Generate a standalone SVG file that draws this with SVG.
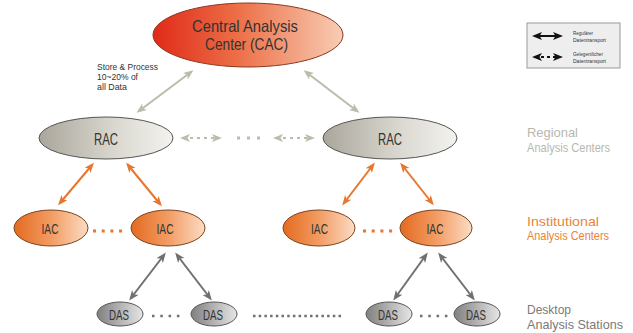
<svg xmlns="http://www.w3.org/2000/svg" width="633" height="333" viewBox="0 0 633 333">
<style>
text{font-family:"Liberation Sans",Arial,sans-serif;}
.node{fill:#333;text-anchor:middle;}
.side{font-size:13px;}
.lg{font-size:5.5px;fill:#333;}
.c1{fill:none;stroke:#b9bda9;stroke-width:2;}
.c2{fill:none;stroke:#e8762c;stroke-width:2;}
.c3{fill:none;stroke:#707070;stroke-width:2;}
.dash{stroke-dasharray:3 4;}
</style>
<defs>
<linearGradient id="gCAC" x1="0" y1="0" x2="1" y2="0">
<stop offset="0" stop-color="#e02a18"/><stop offset="0.45" stop-color="#ec7048"/><stop offset="1" stop-color="#f8cdb4"/>
</linearGradient>
<linearGradient id="gRAC" x1="0" y1="0" x2="1" y2="0">
<stop offset="0" stop-color="#aaa69c"/><stop offset="0.6" stop-color="#dcdad2"/><stop offset="1" stop-color="#f3f2ee"/>
</linearGradient>
<linearGradient id="gIAC" x1="0" y1="0" x2="1" y2="0">
<stop offset="0" stop-color="#e46a20"/><stop offset="0.5" stop-color="#f29c62"/><stop offset="1" stop-color="#fcdcc4"/>
</linearGradient>
<linearGradient id="gDAS" x1="0" y1="0" x2="1" y2="0">
<stop offset="0" stop-color="#808080"/><stop offset="0.6" stop-color="#bdbdbd"/><stop offset="1" stop-color="#e6e6e6"/>
</linearGradient>
<marker id="m1" markerUnits="userSpaceOnUse" markerWidth="12" markerHeight="10" refX="7" refY="4" orient="auto-start-reverse"><path d="M0,0 L10,4 L0,8 L2.5,4 z" fill="#b9bda9"/></marker>
<marker id="m2" markerUnits="userSpaceOnUse" markerWidth="12" markerHeight="10" refX="7" refY="4" orient="auto-start-reverse"><path d="M0,0 L10,4 L0,8 L2.5,4 z" fill="#e8762c"/></marker>
<marker id="m3" markerUnits="userSpaceOnUse" markerWidth="12" markerHeight="10" refX="7" refY="4" orient="auto-start-reverse"><path d="M0,0 L10,4 L0,8 L2.5,4 z" fill="#707070"/></marker>
<marker id="mk" markerUnits="userSpaceOnUse" markerWidth="12" markerHeight="10" refX="7" refY="4" orient="auto-start-reverse"><path d="M0,0 L10,4 L0,8 L2.5,4 z" fill="#111"/></marker>
</defs>
<rect width="633" height="333" fill="#fff"/>

<g id="connectors">
<line class="c1" x1="191" y1="72" x2="139" y2="111" marker-start="url(#m1)" marker-end="url(#m1)"/>
<line class="c1" x1="306" y1="72" x2="357" y2="111" marker-start="url(#m1)" marker-end="url(#m1)"/>
<line class="c1 dash" x1="183" y1="138" x2="219" y2="138" marker-start="url(#m1)" marker-end="url(#m1)"/>
<line class="c1" x1="237" y1="138" x2="260" y2="138" style="stroke-width:3;stroke-dasharray:3 7"/>
<line class="c1 dash" x1="276" y1="138" x2="312" y2="138" marker-start="url(#m1)" marker-end="url(#m1)"/>
<line class="c2" x1="92" y1="165" x2="60" y2="203" marker-start="url(#m2)" marker-end="url(#m2)"/>
<line class="c2" x1="128" y1="165" x2="160" y2="204" marker-start="url(#m2)" marker-end="url(#m2)"/>
<line class="c2" x1="373" y1="165" x2="344" y2="203" marker-start="url(#m2)" marker-end="url(#m2)"/>
<line class="c2" x1="402" y1="165" x2="432" y2="203" marker-start="url(#m2)" marker-end="url(#m2)"/>
<line class="c2" x1="93" y1="231" x2="124" y2="231" style="stroke-width:3;stroke-dasharray:3 5.7"/>
<line class="c2" x1="363" y1="231" x2="394" y2="231" style="stroke-width:3;stroke-dasharray:3 5.7"/>
<line class="c3" x1="164" y1="255" x2="131" y2="298" marker-start="url(#m3)" marker-end="url(#m3)"/>
<line class="c3" x1="177" y1="255" x2="210" y2="298" marker-start="url(#m3)" marker-end="url(#m3)"/>
<line class="c3" x1="426" y1="255" x2="395" y2="298" marker-start="url(#m3)" marker-end="url(#m3)"/>
<line class="c3" x1="440" y1="255" x2="473" y2="298" marker-start="url(#m3)" marker-end="url(#m3)"/>
<line class="c3" x1="152" y1="316" x2="182" y2="316" style="stroke-width:2.5;stroke-dasharray:2.5 5.8"/>
<line class="c3" x1="253" y1="316" x2="344" y2="316" style="stroke-width:2.5;stroke-dasharray:2.5 3.2"/>
<line class="c3" x1="420" y1="316" x2="450" y2="316" style="stroke-width:2.5;stroke-dasharray:2.5 5.8"/>
</g>

<g id="cac">
<ellipse cx="248" cy="35" rx="95" ry="32" fill="url(#gCAC)" stroke="#8a3820" stroke-width="1"/>
<text x="192" y="32" font-size="16.5" fill="#333" textLength="106" lengthAdjust="spacingAndGlyphs">Central Analysis</text>
<text x="205" y="49.5" font-size="16.5" fill="#333" textLength="83" lengthAdjust="spacingAndGlyphs">Center (CAC)</text>
</g>
<g id="note">
<text x="97" y="70" font-size="9.5" fill="#333" textLength="61" lengthAdjust="spacingAndGlyphs">Store &amp; Process</text>
<text x="97" y="80" font-size="9.5" fill="#333" textLength="41" lengthAdjust="spacingAndGlyphs">10~20% of</text>
<text x="97" y="90" font-size="9.5" fill="#333" textLength="30" lengthAdjust="spacingAndGlyphs">all Data</text>
</g>
<g id="rac1">
<ellipse cx="106" cy="138" rx="67" ry="21" fill="url(#gRAC)" stroke="#555" stroke-width="1"/>
<text class="node" x="106" y="145" font-size="16" textLength="24" lengthAdjust="spacingAndGlyphs">RAC</text>
</g>
<g id="rac2">
<ellipse cx="390" cy="138" rx="67" ry="21" fill="url(#gRAC)" stroke="#555" stroke-width="1"/>
<text class="node" x="390" y="145" font-size="16" textLength="24" lengthAdjust="spacingAndGlyphs">RAC</text>
</g>
<g id="iac1">
<ellipse cx="51" cy="228" rx="37" ry="18" fill="url(#gIAC)" stroke="#7a4420" stroke-width="1"/>
<text class="node" x="50" y="234" font-size="15" textLength="17" lengthAdjust="spacingAndGlyphs">IAC</text>
</g>
<g id="iac2">
<ellipse cx="168" cy="228" rx="37" ry="18" fill="url(#gIAC)" stroke="#7a4420" stroke-width="1"/>
<text class="node" x="165" y="234" font-size="15" textLength="17" lengthAdjust="spacingAndGlyphs">IAC</text>
</g>
<g id="iac3">
<ellipse cx="319" cy="228" rx="36" ry="18" fill="url(#gIAC)" stroke="#7a4420" stroke-width="1"/>
<text class="node" x="319.5" y="234" font-size="15" textLength="17" lengthAdjust="spacingAndGlyphs">IAC</text>
</g>
<g id="iac4">
<ellipse cx="436" cy="228" rx="36" ry="18" fill="url(#gIAC)" stroke="#7a4420" stroke-width="1"/>
<text class="node" x="435" y="234" font-size="15" textLength="17" lengthAdjust="spacingAndGlyphs">IAC</text>
</g>
<g id="das1">
<ellipse cx="120" cy="314" rx="23" ry="12" fill="url(#gDAS)" stroke="#555" stroke-width="1"/>
<text class="node" x="119" y="320" font-size="15" textLength="20" lengthAdjust="spacingAndGlyphs">DAS</text>
</g>
<g id="das2">
<ellipse cx="214" cy="314" rx="23" ry="12" fill="url(#gDAS)" stroke="#555" stroke-width="1"/>
<text class="node" x="213" y="320" font-size="15" textLength="20" lengthAdjust="spacingAndGlyphs">DAS</text>
</g>
<g id="das3">
<ellipse cx="389" cy="314" rx="23" ry="12" fill="url(#gDAS)" stroke="#555" stroke-width="1"/>
<text class="node" x="388" y="320" font-size="15" textLength="20" lengthAdjust="spacingAndGlyphs">DAS</text>
</g>
<g id="das4">
<ellipse cx="477" cy="314" rx="23" ry="12" fill="url(#gDAS)" stroke="#555" stroke-width="1"/>
<text class="node" x="476" y="320" font-size="15" textLength="20" lengthAdjust="spacingAndGlyphs">DAS</text>
</g>

<g id="labels">
<text class="side" x="527" y="137" fill="#b8b8ae" textLength="51" lengthAdjust="spacingAndGlyphs">Regional</text>
<text class="side" x="527" y="152" fill="#b8b8ae" textLength="83" lengthAdjust="spacingAndGlyphs">Analysis Centers</text>
<text class="side" x="527" y="226" fill="#e8843a" textLength="72" lengthAdjust="spacingAndGlyphs">Institutional</text>
<text class="side" x="527" y="240" fill="#e8843a" textLength="82" lengthAdjust="spacingAndGlyphs">Analysis Centers</text>
<text class="side" x="527" y="314" fill="#7a7a7a" textLength="44" lengthAdjust="spacingAndGlyphs">Desktop</text>
<text class="side" x="527" y="328.5" fill="#7a7a7a" textLength="96" lengthAdjust="spacingAndGlyphs">Analysis Stations</text>
</g>

<g id="legend">
<rect x="527" y="23" width="93" height="45" fill="#eeeeee" stroke="#999" stroke-width="1"/>
<line x1="535" y1="36" x2="560" y2="36" stroke="#111" stroke-width="2" marker-start="url(#mk)" marker-end="url(#mk)"/>
<line x1="535" y1="57" x2="560" y2="57" stroke="#111" stroke-width="2" stroke-dasharray="3 3" marker-start="url(#mk)" marker-end="url(#mk)"/>
<text class="lg" x="573" y="35" textLength="20" lengthAdjust="spacingAndGlyphs">Regulärer</text>
<text class="lg" x="573" y="42" textLength="33" lengthAdjust="spacingAndGlyphs">Datentransport</text>
<text class="lg" x="573" y="56" textLength="30" lengthAdjust="spacingAndGlyphs">Gelegentlicher</text>
<text class="lg" x="573" y="63" textLength="33" lengthAdjust="spacingAndGlyphs">Datentransport</text>
</g>
</svg>
